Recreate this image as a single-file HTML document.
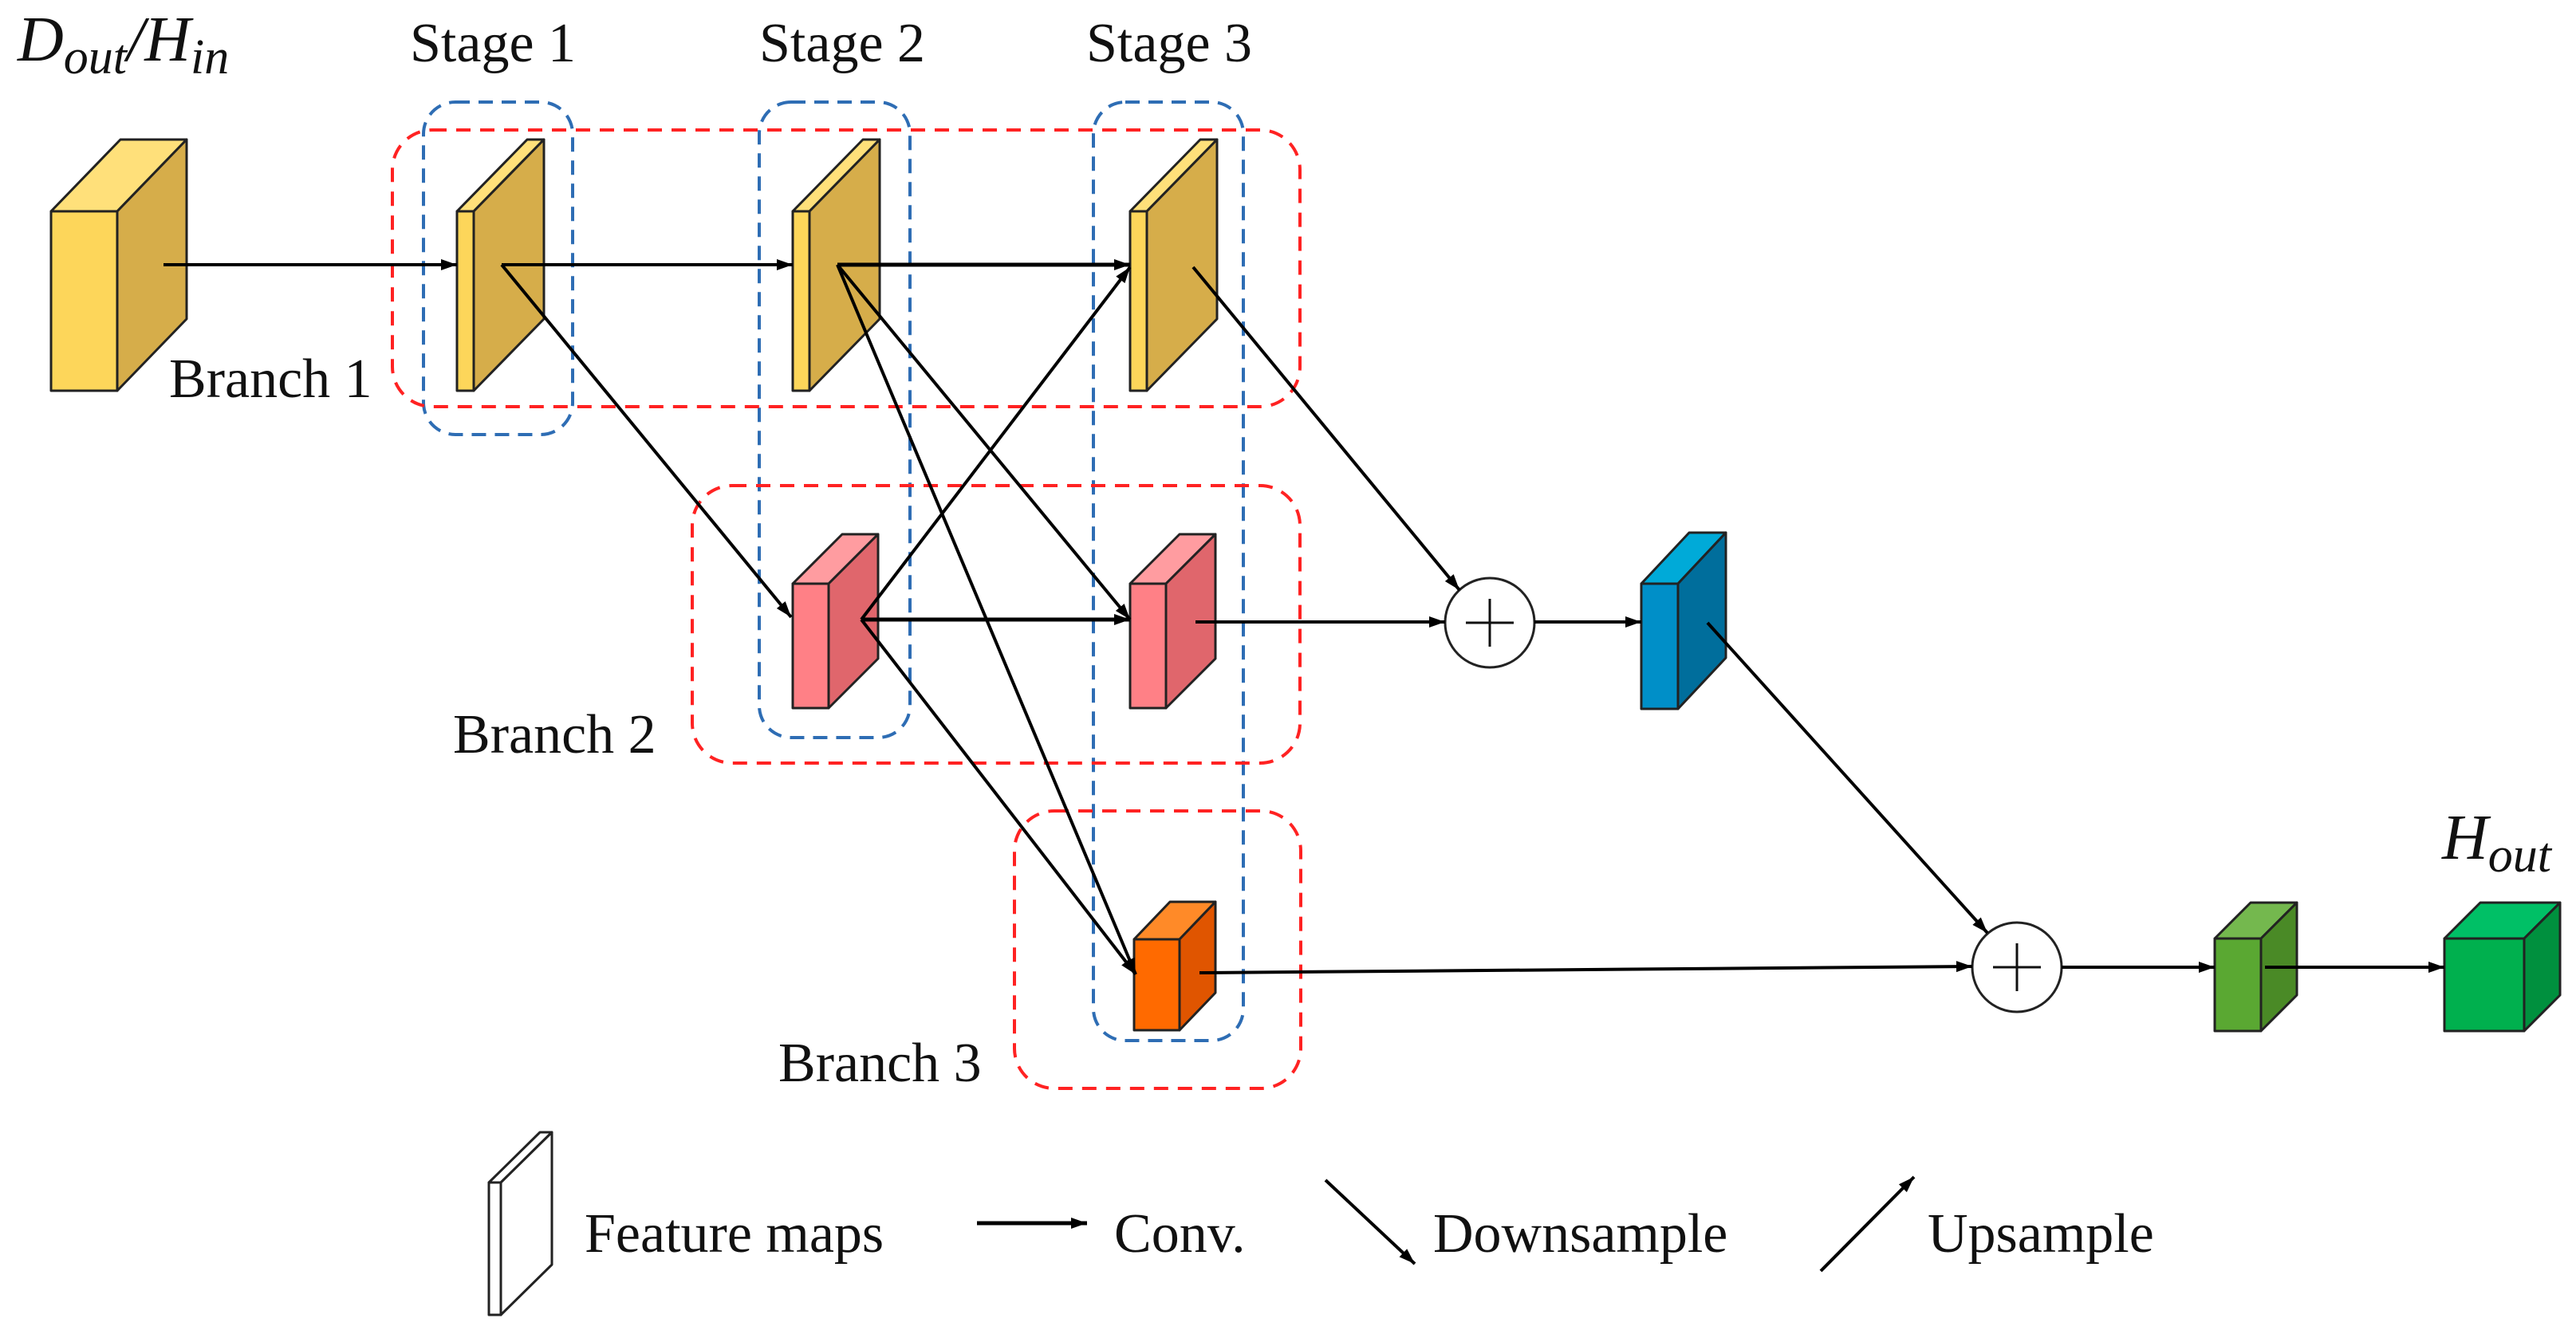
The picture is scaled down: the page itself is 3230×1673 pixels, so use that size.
<!DOCTYPE html>
<html><head><meta charset="utf-8"><style>
html,body{margin:0;padding:0;background:#fff;}
svg{display:block;}
text{font-family:"Liberation Serif",serif;fill:#111;}
</style></head><body>
<svg width="3230" height="1673" viewBox="0 0 3230 1673" xmlns="http://www.w3.org/2000/svg">
<defs>
<marker id="a" viewBox="0 0 10 10" refX="10" refY="5" markerWidth="22" markerHeight="20" markerUnits="userSpaceOnUse" orient="auto"><path d="M0,1.5 L10,5 L0,8.5 Z" fill="#000"/></marker>
</defs>

<g fill="none" stroke-width="4">
<g stroke="#2E6DB4" stroke-dasharray="18 11">
<rect x="531" y="128" width="187" height="417" rx="40"/>
<rect x="952" y="128" width="189" height="797" rx="40"/>
<rect x="1371" y="128" width="188" height="1177" rx="40"/>
</g>
<g stroke="#FF2222" stroke-dasharray="18 12">
<rect x="492" y="163" width="1138" height="347" rx="50"/>
<rect x="868" y="609" width="762" height="348" rx="50"/>
<rect x="1272" y="1017" width="359" height="348" rx="50"/>
</g>
</g>

<g stroke="#222" stroke-width="3" stroke-linejoin="round">
<path d="M64,265 L151,175 L234,175 L147,265 Z" fill="#FFE07A"/>
<path d="M147,265 L234,175 L234,400 L147,490 Z" fill="#D6AD4A"/>
<rect x="64" y="265" width="83" height="225" fill="#FDD65A"/>
<path d="M573,265 L661,175 L682,175 L594,265 Z" fill="#FFE07A"/>
<path d="M594,265 L682,175 L682,400 L594,490 Z" fill="#D6AD4A"/>
<rect x="573" y="265" width="21" height="225" fill="#FDD65A"/>
<path d="M994,265 L1082,175 L1103,175 L1015,265 Z" fill="#FFE07A"/>
<path d="M1015,265 L1103,175 L1103,400 L1015,490 Z" fill="#D6AD4A"/>
<rect x="994" y="265" width="21" height="225" fill="#FDD65A"/>
<path d="M1417,265 L1505,175 L1526,175 L1438,265 Z" fill="#FFE07A"/>
<path d="M1438,265 L1526,175 L1526,400 L1438,490 Z" fill="#D6AD4A"/>
<rect x="1417" y="265" width="21" height="225" fill="#FDD65A"/>
<path d="M994,732 L1056,670 L1101,670 L1039,732 Z" fill="#FF9CA0"/>
<path d="M1039,732 L1101,670 L1101,826 L1039,888 Z" fill="#E0666C"/>
<rect x="994" y="732" width="45" height="156" fill="#FF8086"/>
<path d="M1417,732 L1479,670 L1524,670 L1462,732 Z" fill="#FF9CA0"/>
<path d="M1462,732 L1524,670 L1524,826 L1462,888 Z" fill="#E0666C"/>
<rect x="1417" y="732" width="45" height="156" fill="#FF8086"/>
<path d="M1422,1178 L1467,1131 L1524,1131 L1479,1178 Z" fill="#FF8A28"/>
<path d="M1479,1178 L1524,1131 L1524,1245 L1479,1292 Z" fill="#E05500"/>
<rect x="1422" y="1178" width="57" height="114" fill="#FF6A00"/>
<path d="M2058,732 L2118,668 L2164,668 L2104,732 Z" fill="#00AAD8"/>
<path d="M2104,732 L2164,668 L2164,825 L2104,889 Z" fill="#006E9C"/>
<rect x="2058" y="732" width="46" height="157" fill="#008FC8"/>
<path d="M2777,1177 L2822,1132 L2880,1132 L2835,1177 Z" fill="#74B84E"/>
<path d="M2835,1177 L2880,1132 L2880,1248 L2835,1293 Z" fill="#4A8A26"/>
<rect x="2777" y="1177" width="58" height="116" fill="#5AA832"/>
<path d="M3065,1177 L3110,1132 L3210,1132 L3165,1177 Z" fill="#00C066"/>
<path d="M3165,1177 L3210,1132 L3210,1248 L3165,1293 Z" fill="#00903E"/>
<rect x="3065" y="1177" width="100" height="116" fill="#00B04E"/>
<path d="M613,1483 L677,1420 L692,1420 L628,1483 Z" fill="#fff"/>
<path d="M628,1483 L692,1420 L692,1586 L628,1649 Z" fill="#fff"/>
<rect x="613" y="1483" width="15" height="166" fill="#fff"/>
</g>

<g stroke="#222" stroke-width="3" fill="#fff">
<circle cx="1868" cy="781" r="56"/>
<circle cx="2529" cy="1213" r="56"/>
</g>
<g stroke="#111" stroke-width="3">
<line x1="1838" y1="781" x2="1898" y2="781"/><line x1="1868" y1="751" x2="1868" y2="811"/>
<line x1="2499" y1="1213" x2="2559" y2="1213"/><line x1="2529" y1="1183" x2="2529" y2="1243"/>
</g>

<g stroke="#000" stroke-width="4" fill="none" marker-end="url(#a)">
<line x1="205" y1="332" x2="573" y2="332"/>
<line x1="629" y1="332" x2="994" y2="332"/>
<line x1="629" y1="332" x2="992" y2="774"/>
<line x1="1050" y1="332" x2="1417" y2="332" stroke-width="5"/>
<line x1="1050" y1="332" x2="1417" y2="777"/>
<line x1="1050" y1="332" x2="1424" y2="1222"/>
<line x1="1080" y1="777" x2="1417" y2="777" stroke-width="5"/>
<line x1="1080" y1="777" x2="1417" y2="335"/>
<line x1="1080" y1="777" x2="1424" y2="1222"/>
<line x1="1496" y1="335" x2="1830" y2="740"/>
<line x1="1499" y1="780" x2="1812" y2="780"/>
<line x1="1924" y1="780" x2="2058" y2="780"/>
<line x1="2141" y1="781" x2="2492" y2="1170"/>
<line x1="1504" y1="1220" x2="2473" y2="1212"/>
<line x1="2585" y1="1213" x2="2777" y2="1213"/>
<line x1="2840" y1="1213" x2="3065" y2="1213"/>
<line x1="1225" y1="1534" x2="1363" y2="1534" stroke-width="5"/>
<line x1="1662" y1="1480" x2="1774" y2="1585"/>
<line x1="2283" y1="1594" x2="2400" y2="1476"/>
</g>

<g font-size="70">
<text x="514" y="77">Stage 1</text>
<text x="952" y="77">Stage 2</text>
<text x="1362" y="77">Stage 3</text>
<text x="212" y="498">Branch 1</text>
<text x="568" y="944">Branch 2</text>
<text x="976" y="1356">Branch 3</text>
<text x="733" y="1570">Feature maps</text>
<text x="1397" y="1570">Conv.</text>
<text x="1797" y="1570">Downsample</text>
<text x="2417" y="1570">Upsample</text>
</g>
<text x="22" y="76" font-size="80" font-style="italic">D<tspan font-size="62" dy="16">out</tspan><tspan dy="-16">/H</tspan><tspan font-size="62" dy="16">in</tspan></text>
<text x="3062" y="1077" font-size="80" font-style="italic">H<tspan font-size="62" dy="16">out</tspan></text>
</svg>
</body></html>
